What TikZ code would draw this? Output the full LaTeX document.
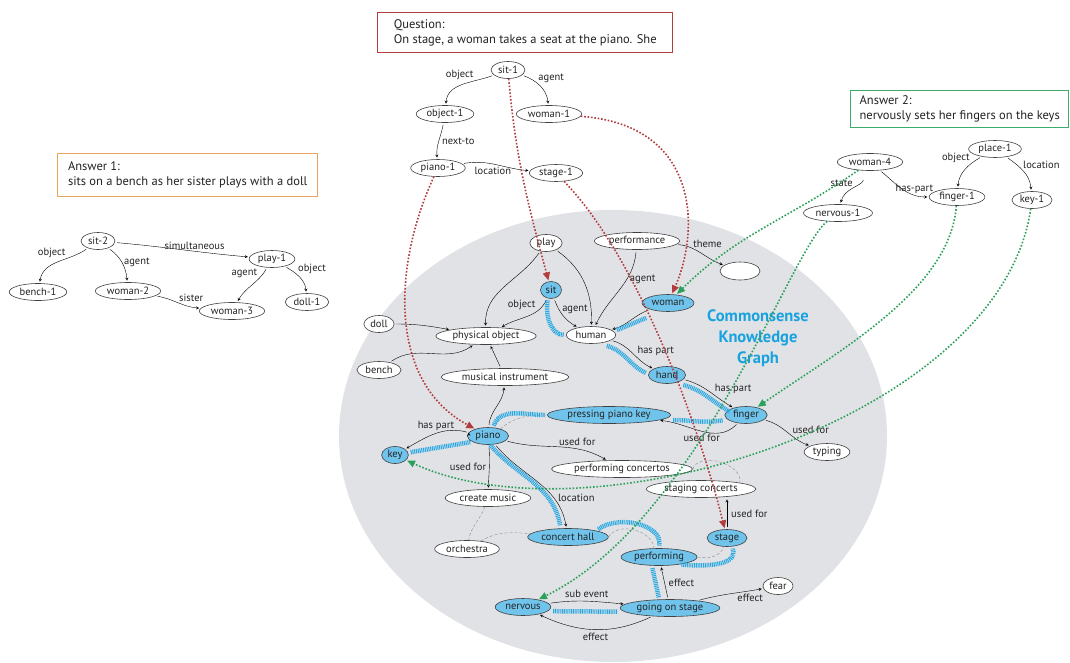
\documentclass[tikz,border=0pt]{standalone}
\usepackage{fontspec}
\setmainfont{PT Sans}
\usetikzlibrary{shapes.geometric, arrows.meta}

\definecolor{grisfondo}{RGB}{225,226,230}
\definecolor{azulnodo}{RGB}{112,196,236}
\definecolor{azulcamino}{RGB}{38,168,226}
\definecolor{azultitulo}{RGB}{24,162,222}
\definecolor{rojopreg}{RGB}{178,60,62}
\definecolor{verderesp}{RGB}{42,160,90}
\definecolor{naranjacaja}{RGB}{234,164,96}
\definecolor{verdecaja}{RGB}{60,172,110}
\definecolor{texto}{RGB}{35,35,35}

\begin{document}
\begin{tikzpicture}[x=1pt, y=1pt, ->, >=stealth, thin, font=\fontsize{10.5}{12}\selectfont,
  concepto/.style={ellipse, draw=black!75, line width=0.6pt, fill=white, inner xsep=2pt, inner ysep=0.3pt, minimum height=17pt, text=texto},
  kg/.style={concepto, fill=azulnodo},
  etiq/.style={inner sep=1pt, text=texto},
  caja/.style={rectangle, line width=1.4pt, fill=white, align=left, text=texto, font=\fontsize{12.5}{15}\selectfont},
  camino/.style={-, draw=azulcamino, line width=4.5pt, dash pattern=on 1pt off 0.8pt, shorten <=2pt, shorten >=2pt},
  enlace/.style={-, draw=black!45, densely dashed, thin},
  puntos/.style={line width=1.6pt, dash pattern=on 1.6pt off 1.8pt, shorten >=1pt, -{Triangle[length=8pt, width=7pt]}},
  every edge/.append style={shorten >=1.5pt, shorten <=2pt}
]
\useasboundingbox (0,0) rectangle (1070,-662);

% Fondo del grafo
\fill[grisfondo, -] (613,-436) ellipse [x radius=274, y radius=226];

% Cajas de texto
\node[caja, draw=rojopreg, minimum width=295pt, minimum height=40pt, anchor=north west] (pregunta) at (377,-12) {Question:\\On stage, a woman takes a seat at the piano. She};
\node[caja, draw=naranjacaja, minimum width=260pt, minimum height=43pt, anchor=north west] (resp1) at (57,-153) {Answer 1:\\sits on a bench as her sister plays with a doll};
\node[caja, draw=verdecaja, minimum width=218pt, minimum height=37pt, anchor=north west] (resp2) at (850,-90) {Answer 2:\\nervously sets her fingers on the keys};

% Grafo de la pregunta
\node[concepto] (sit1) at (508,-70) {sit-1};
\node[concepto] (object1) at (445,-114) {object-1};
\node[concepto] (woman1) at (549,-114) {woman-1};
\node[concepto] (piano1) at (438,-168) {piano-1};
\node[concepto] (stage1) at (556,-173) {stage-1};

% Grafo de la respuesta 1
\node[concepto] (sit2) at (98,-241) {sit-2};
\node[concepto] (bench1) at (38,-292) {bench-1};
\node[concepto] (woman2) at (128,-291) {woman-2};
\node[concepto] (play1) at (272,-259) {play-1};
\node[concepto] (woman3) at (232,-311) {woman-3};
\node[concepto] (doll1) at (307,-302) {doll-1};

% Grafo de la respuesta 2
\node[concepto] (woman4) at (870,-162) {woman-4};
\node[concepto] (place1) at (995,-149) {place-1};
\node[concepto] (nervous1) at (838,-213) {nervous-1};
\node[concepto] (finger1) at (957,-197) {finger-1};
\node[concepto] (key1) at (1032,-200) {key-1};

% Grafo de sentido comun
\node[font=\bfseries\fontsize{16.5}{21}\selectfont, text=azultitulo, align=center] (titulo) at (758,-338) {Commonsense\\Knowledge\\Graph};
\node[concepto] (play) at (546,-243) {play};
\node[concepto] (performance) at (637,-241) {performance};
\node[concepto, minimum width=40pt, minimum height=18pt] (vacio) at (740,-271) {};
\node[concepto] (doll) at (379,-324) {doll};
\node[concepto] (physobj) at (486,-336) {physical object};
\node[concepto] (human) at (591,-335) {human};
\node[concepto] (bench) at (379,-370) {bench};
\node[concepto] (musinst) at (505,-377) {musical instrument};
\node[kg] (sit) at (551,-290) {sit};
\node[kg] (woman) at (668,-303) {woman};
\node[kg] (hand) at (667,-375) {hand};
\node[kg] (pressing) at (609,-415) {pressing piano key};
\node[kg] (finger) at (746,-415) {finger};
\node[kg] (piano) at (488,-436) {piano};
\node[kg] (key) at (395,-455) {key};
\node[concepto] (perfconc) at (622,-469) {performing concertos};
\node[concepto] (typing) at (827,-452) {typing};
\node[concepto] (stagconc) at (701,-489) {staging concerts};
\node[concepto] (music) at (488,-498) {create music};
\node[concepto] (orchestra) at (467,-549) {orchestra};
\node[kg] (hall) at (568,-537) {concert hall};
\node[kg] (stage) at (727,-538) {stage};
\node[kg] (performing) at (659,-557) {performing};
\node[concepto] (fear) at (778,-586) {fear};
\node[kg] (nervous) at (523,-607) {nervous};
\node[kg] (going) at (670,-608) {going on stage};

% Relaciones de la pregunta
\draw (sit1) edge[out=200, in=85] node[etiq, pos=.3, above left] {object} (object1);
\draw (sit1) edge[out=-20, in=95] node[etiq, pos=.4, above right] {agent} (woman1);
\draw (object1) edge[out=260, in=95] node[etiq, pos=.5, right=2pt] {next-to} (piano1);
\draw (piano1) edge[out=10, in=175] node[etiq, pos=.45, below=2pt] {location} (stage1);

% Relaciones de la respuesta 1
\draw (sit2) edge[out=215, in=80] node[etiq, pos=.35, above left] {object} (bench1);
\draw (sit2) edge[out=-35, in=95] node[etiq, pos=.5, right=1pt] {agent} (woman2);
\draw (sit2) edge[out=-5, in=175] node[etiq, pos=.6, above] {simultaneous} (play1);
\draw (play1) edge[out=240, in=60] node[etiq, pos=.3, above left] {agent} (woman3);
\draw (play1) edge[out=-30, in=95] node[etiq, pos=.4, above right] {object} (doll1);
\draw (woman2) edge[out=-10, in=175] node[etiq, pos=.5, above right] {sister} (woman3);

% Relaciones de la respuesta 2
\draw (woman4) edge[out=250, in=75, shorten <=10pt] node[etiq, pos=.35, left=4pt] {state} (nervous1);
\draw (woman4) edge[out=-40, in=180] node[etiq, pos=.75, above] {has-part} (finger1);
\draw (place1) edge[out=210, in=85] node[etiq, pos=.3, above left] {object} (finger1);
\draw (place1) edge[out=-35, in=95] node[etiq, pos=.45, above right] {location} (key1);

% Relaciones del grafo
\draw (play) edge[out=235, in=92] (physobj);
\draw (play) edge[out=-35, in=88] (human);
\draw (sit) edge[out=245, in=30] node[etiq, pos=.3, above left] {object} (physobj);
\draw (sit) edge[out=-70, in=150] node[etiq, pos=.3, right=2pt] {agent} (human);
\draw (performance) edge[out=265, in=65] node[etiq, pos=.35, right=2pt] {agent} (human);
\draw (woman) edge[out=200, in=15] (human);
\draw (performance) edge[out=-5, in=160] node[etiq, pos=.3, above right] {theme} (vacio);
\draw (doll) edge[out=0, in=170] (physobj);
\draw (bench) edge[out=35, in=215] (physobj);
\draw (musinst) edge (physobj);
\draw (piano) edge[out=85, in=265] (musinst);
\draw (piano.170) edge[out=165, in=30] node[etiq, pos=.5, above=2pt] {has part} (key);
\draw (piano) edge[out=-15, in=150] node[etiq, pos=.5, above right] {used for} (perfconc);
\draw (piano) edge[out=275, in=88] node[etiq, pos=.5, left=2pt] {used for} (music);
\draw (piano) edge[out=-50, in=100] node[etiq, pos=.7, right=4pt] {location} (hall);
\draw (human) edge[out=-15, in=155] node[etiq, pos=.6, above right] {has part} (hand);
\draw (hand) edge[out=-15, in=150] node[etiq, pos=.6, above right] {has part} (finger);
\draw (finger) edge[out=225, in=-6] node[etiq, pos=.5, below=2pt] {used for} (pressing);
\draw (finger) edge[out=-15, in=160] node[etiq, pos=.6, above right] {used for} (typing);
\draw (stage) edge node[etiq, pos=.5, right=3pt] {used for} (stage |- stagconc.south);
\draw (going) edge node[etiq, pos=.5, right=3pt] {effect} (performing);
\draw (going) edge[out=15, in=190] node[etiq, pos=.6, below right] {effect} (fear);
\draw (nervous) edge[out=8, in=175] node[etiq, pos=.5, above=2pt] {sub event} (going);
\draw (going) edge[out=205, in=-25] node[etiq, pos=.5, below=2pt] {effect} (nervous);

% Enlaces asociativos
\draw[enlace] (piano.30) to[out=40, in=180] (pressing.west);
\draw[enlace] (perfconc.east) to[out=70, in=80] (stagconc.north east);
\draw[enlace] (music) to[out=250, in=80] (orchestra);
\draw[enlace] (orchestra) to[out=30, in=175] (hall);
\draw[enlace] (hall.east) to[out=60, in=95] (performing.120);
\draw[enlace] (performing.east) to[out=-10, in=-110] (stage);

% Camino de razonamiento
\draw[camino] (sit.250) to[out=260, in=180] (human.west);
\draw[camino, shorten <=8pt, shorten >=8pt, transform canvas={shift={(2,-5)}}] (woman) -- (human);
\draw[camino, transform canvas={shift={(-6,-5)}}] (human) to[out=-15, in=155] (hand);
\draw[camino, transform canvas={shift={(-2,-5)}}] (hand) to[out=-15, in=150] (finger);
\draw[camino, transform canvas={shift={(0,-5)}}] (finger.west) to[out=190, in=0] (pressing.east);
\draw[camino] (piano.60) to[out=70, in=180] (pressing.west);
\draw[camino] (piano.200) to[out=190, in=10] (key.10);
\draw[camino, transform canvas={shift={(-6,1)}}] (piano) to[out=-50, in=100] (hall);
\draw[camino] (hall.north east) to[out=40, in=80] (performing.north);
\draw[camino] (performing.-20) to[out=-5, in=-70] (stage.-60);
\draw[camino, transform canvas={shift={(-9,0)}}] (going) to (performing);
\draw[camino, transform canvas={shift={(0,-4)}}] (nervous) to (going);

% Alineacion con la pregunta
\draw[puntos, rojopreg] (sit1) to[out=-85, in=105] (sit);
\draw[puntos, rojopreg] (woman1) .. controls (700,-125) and (700,-230) .. (woman);
\draw[puntos, rojopreg] (piano1) .. controls (395,-260) and (385,-380) .. (piano);
\draw[puntos, rojopreg] (stage1) .. controls (640,-260) and (700,-430) .. (stage);

% Alineacion con la respuesta 2
\draw[puntos, verderesp] (woman4) to[out=215, in=45] (woman);
\draw[puntos, verderesp] (nervous1) .. controls (790,-250) and (700,-520) .. (nervous);
\draw[puntos, verderesp] (finger1) .. controls (950,-290) and (840,-350) .. (finger);
\draw[puntos, verderesp] (key1) .. controls (1000,-420) and (590,-545) .. (key);
\end{tikzpicture}
\end{document}
